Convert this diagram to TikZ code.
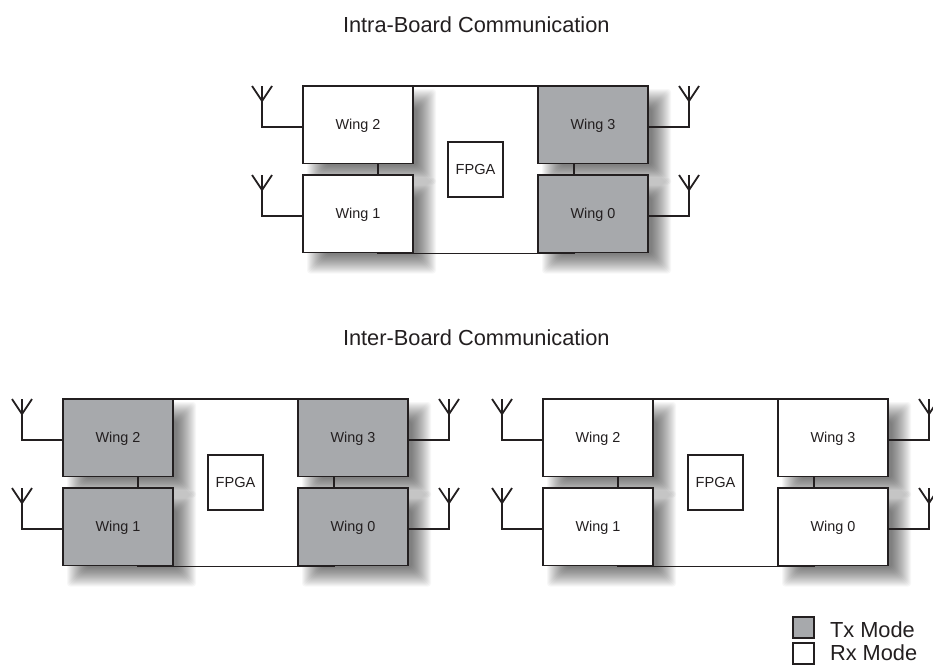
\documentclass[tikz,border=0pt]{standalone}
\usepackage{fontspec}
\setmainfont{Liberation Sans}
\definecolor{txgrey}{RGB}{167,169,172}
\definecolor{ink}{RGB}{35,31,32}
\tikzset{
  x=1pt,y=-1pt,
  every node/.style={outer sep=0pt},
  wing/.style={draw=ink,line width=1.9pt,minimum width=110pt,minimum height=77.5pt,inner sep=0pt,text depth=0pt,font=\fontsize{14.4}{16}\selectfont,text=ink,anchor=north west},
  tx/.style={wing,fill=txgrey},
  rx/.style={wing,fill=white},
  fpga/.style={draw=ink,line width=1.7pt,fill=white,minimum width=55pt,minimum height=55pt,inner sep=0pt,font=\fontsize{14.6}{16}\selectfont,text=ink,anchor=north west},
  board/.style={draw=ink,line width=1.8pt,minimum width=196pt,minimum height=167.5pt,inner sep=0pt,anchor=north west},
  title/.style={font=\fontsize{21.8}{24}\selectfont,text=ink,anchor=base west,inner sep=0pt},
  legendtext/.style={font=\fontsize{21.8}{24}\selectfont,text=ink,anchor=base west,inner sep=0pt},
  legendbox/.style={draw=ink,line width=1.9pt,minimum width=21pt,minimum height=21pt,inner sep=0pt,anchor=north west},
  wire/.style={draw=ink,line width=1.8pt,line join=miter},
}
% soft shadow of a wing box, whose top left corner is at (#1,#2)
\newcommand{\softshadow}[2]{%
  \foreach \i in {0,...,19}{%
    \fill[black,opacity=0.032,rounded corners=3pt]
      ({#1+4+\i},{#2+3+\i}) rectangle ({#1+110+23-\i},{#2+77.5+21-\i});
  }%
}
% antenna with mast at x=#2, top at y=#3, fed from the anchor #1
\newcommand{\antenna}[4]{%
  \coordinate (#4top) at (#2,#3);
  \coordinate (#4joint) at (#2,#3+15);
  \draw[wire] (#1) ++(0,2.5) -| (#4joint);
  \draw[wire] (#2-10,#3) -- (#4joint) -- (#2+10,#3);
  \draw[wire] (#4joint) -- (#4top);
}
% whole board at offset (#1,#2); #3 #4 #5 #6 = styles of wings 2,1,3,0; #7 = name prefix
\newcommand{\wingboard}[7]{%
  \softshadow{#1}{#2}
  \softshadow{#1}{#2+89}
  \softshadow{#1+235}{#2}
  \softshadow{#1+235}{#2+89}
  \node[board] (#7b) at (#1+75,#2) {};
  \node[#3] (#7w2) at (#1,#2) {Wing 2};
  \node[#4] (#7w1) at (#1,#2+89) {Wing 1};
  \node[#5] (#7w3) at (#1+235,#2) {Wing 3};
  \node[#6] (#7w0) at (#1+235,#2+89) {Wing 0};
  \node[fpga] (#7f) at (#1+145,#2+56) {FPGA};
  \antenna{#7w2.west}{#1-41}{#2}{#7a2}
  \antenna{#7w1.west}{#1-41}{#2+89}{#7a1}
  \antenna{#7w3.east}{#1+386}{#2}{#7a3}
  \antenna{#7w0.east}{#1+386}{#2+89}{#7a0}
}
\begin{document}
\begin{tikzpicture}
\useasboundingbox (0,0) rectangle (933,664);
\clip (0,0) rectangle (933,664);
\fill[white] (0,0) rectangle (933,664);
\node[title] (t1) at (343,32) {Intra-Board Communication};
\node[title] (t2) at (343,345) {Inter-Board Communication};
\wingboard{303}{86}{rx}{rx}{tx}{tx}{a}
\wingboard{63}{399}{tx}{tx}{tx}{tx}{b}
\wingboard{543}{399}{rx}{rx}{rx}{rx}{c}
\node[legendbox,fill=txgrey] (l1) at (793,617) {};
\node[legendbox,fill=white] (l2) at (793,643) {};
\node[legendtext] (l1t) at (830,637) {Tx Mode};
\node[legendtext] (l2t) at (830,660.5) {Rx Mode};
\end{tikzpicture}
\end{document}
